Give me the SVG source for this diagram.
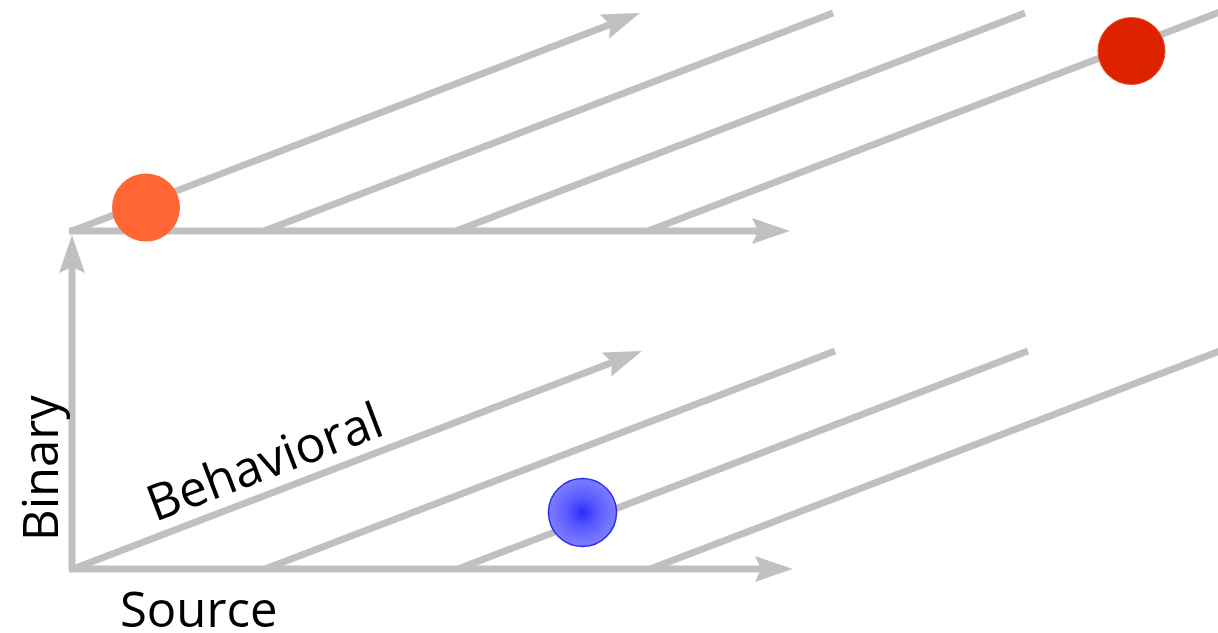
<svg xmlns="http://www.w3.org/2000/svg" width="1218" height="633" viewBox="0 0 1218 633">
<style>
.ax{stroke:#c0c0c0;stroke-width:7;fill:none;stroke-linecap:butt}
.lbl{font-family:"Open Sans","Liberation Sans",sans-serif;font-size:49px;fill:#000}
</style>
<defs>
<marker id="ah" markerUnits="userSpaceOnUse" markerWidth="60" markerHeight="40" viewBox="-10 -20 50 40" refX="0" refY="0" orient="auto" overflow="visible">
<path d="M-6,-13 L32,0 L-6,13 L0,0 z" fill="#c0c0c0"/>
</marker>
<radialGradient id="bg" cx="0.5" cy="0.5" r="0.5">
<stop offset="0" stop-color="#2a2aff"/>
<stop offset="0.45" stop-color="#5a5aff"/>
<stop offset="1" stop-color="#7e7eff"/>
</radialGradient>
</defs>
<g id="connectors">
<line class="ax" x1="72" y1="570" x2="72" y2="267" marker-end="url(#ah)"/>
<line class="ax" x1="69" y1="569" x2="761" y2="569" marker-end="url(#ah)"/>
<line class="ax" x1="69" y1="231" x2="758" y2="231" marker-end="url(#ah)"/>
<line class="ax" x1="72" y1="231" x2="610" y2="24.5" marker-end="url(#ah)"/>
<line class="ax" x1="264" y1="231" x2="833" y2="13"/>
<line class="ax" x1="456" y1="231" x2="1025" y2="13"/>
<line class="ax" x1="648" y1="231" x2="1225" y2="10"/>
<line class="ax" x1="73" y1="569" x2="612" y2="362.5" marker-end="url(#ah)"/>
<line class="ax" x1="265" y1="569" x2="835" y2="351"/>
<line class="ax" x1="458" y1="569" x2="1028" y2="351"/>
<line class="ax" x1="650" y1="569" x2="1225" y2="349"/>
</g>
<g id="node-orange"><circle cx="146" cy="207.5" r="34" fill="#ff6633"/></g>
<g id="node-red"><circle cx="1131.5" cy="51" r="33.5" fill="#dd2200" stroke="#f04a20" stroke-width="1"/></g>
<g id="node-blue"><circle cx="582.5" cy="512.5" r="34" fill="url(#bg)" stroke="#2a2aee" stroke-width="1.5"/></g>
<g id="labels">
<text class="lbl" x="120" y="627">Source</text>
<text class="lbl" transform="translate(58,541) rotate(-90)">Binary</text>
<text class="lbl" style="font-size:50px" transform="translate(155,522) rotate(-20.8)">Behavioral</text>
</g>
</svg>
